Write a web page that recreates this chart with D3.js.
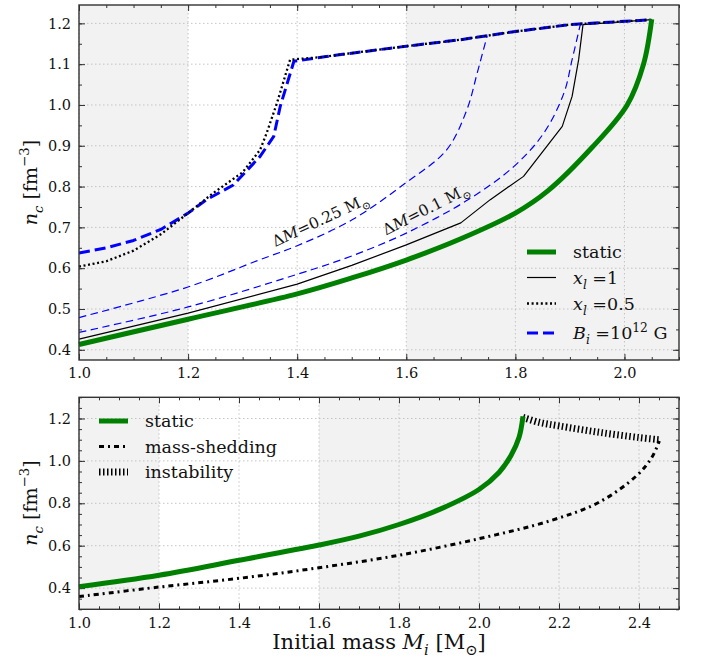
<!DOCTYPE html>
<html>
<head>
<meta charset="utf-8">
<script src="https://cdn.jsdelivr.net/npm/d3@7"></script>
<style>
  body { margin: 0; background: #fff; }
  #chart text { fill: #111; }
</style>
</head>
<body>
<svg id="chart" width="701" height="662"></svg>
<script>
// ---- data ----
// top panel
var staticTopM  = [1.0, 1.2, 1.4, 1.5, 1.6, 1.7, 1.8, 1.86, 1.94, 2.005, 2.035, 2.05];
var staticTopN  = [0.413, 0.475, 0.537, 0.576, 0.62, 0.672, 0.735, 0.79, 0.895, 1.0, 1.1, 1.21];
var xl1M        = [1.0, 1.2, 1.4, 1.5, 1.6, 1.7, 1.754, 1.815, 1.886, 1.904, 1.916, 1.924, 2.05];
var xl1N        = [0.426, 0.49, 0.561, 0.607, 0.657, 0.711, 0.768, 0.825, 0.9475, 1.021, 1.111, 1.197, 1.209];
var xl05M       = [1.0, 1.05, 1.1, 1.15, 1.2, 1.246, 1.3, 1.332, 1.344, 1.363, 1.387, 1.45, 1.5, 1.6, 1.7, 1.8, 1.9, 2.0, 2.05];
var xl05N       = [0.604, 0.617, 0.643, 0.683, 0.735, 0.784, 0.835, 0.89, 0.931, 1.005, 1.111, 1.118, 1.127, 1.144, 1.16, 1.18, 1.197, 1.205, 1.209];
var bFieldM     = [1.0, 1.05, 1.1, 1.15, 1.2, 1.234, 1.283, 1.332, 1.357, 1.369, 1.394, 1.45, 1.5, 1.6, 1.7, 1.8, 1.9, 2.0, 2.05];
var bFieldN     = [0.637, 0.65, 0.668, 0.695, 0.735, 0.768, 0.804, 0.874, 0.923, 0.997, 1.107, 1.118, 1.127, 1.144, 1.16, 1.18, 1.197, 1.205, 1.209];
var dm01M       = [1.0, 1.2, 1.4, 1.5, 1.6, 1.71, 1.797, 1.852, 1.889, 1.904, 1.919];
var dm01N       = [0.4425, 0.505, 0.585, 0.63, 0.686, 0.765, 0.849, 0.931, 1.029, 1.111, 1.197];
var dm025M      = [1.0, 1.2, 1.33, 1.4, 1.5, 1.6, 1.674, 1.711, 1.73, 1.748];
var dm025N      = [0.479, 0.554, 0.62, 0.655, 0.718, 0.81, 0.89, 0.988, 1.078, 1.168];

// bottom panel
var staticBotM  = [1.0, 1.2, 1.4, 1.6, 1.7, 1.8, 1.9, 2.0, 2.05, 2.08, 2.1, 2.11];
var staticBotN  = [0.407, 0.461, 0.531, 0.603, 0.645, 0.7, 0.77, 0.865, 0.945, 1.025, 1.11, 1.21];
var sheddingM   = [1.0, 1.2, 1.4, 1.6, 1.8, 2.0, 2.18, 2.3, 2.394, 2.432, 2.451];
var sheddingN   = [0.36, 0.405, 0.446, 0.496, 0.555, 0.633, 0.719, 0.805, 0.93, 1.016, 1.094];
var instabM     = [2.11, 2.15, 2.2, 2.3, 2.4, 2.45];
var instabN     = [1.205, 1.182, 1.165, 1.135, 1.11, 1.1];

// axes
var topXTicks = [1.0, 1.2, 1.4, 1.6, 1.8, 2.0];
var topYTicks = [0.4, 0.5, 0.6, 0.7, 0.8, 0.9, 1.0, 1.1, 1.2];
var botXTicks = [1.0, 1.2, 1.4, 1.6, 1.8, 2.0, 2.2, 2.4];
var botYTicks = [0.4, 0.6, 0.8, 1.0, 1.2];
var greyBands = [[1.0, 1.2], [1.6, 2.5]];

var SERIF = '"DejaVu Serif", "Liberation Serif", "Noto Serif", "Times New Roman", Georgia, serif';
var svg = d3.select('#chart').style('font-family', SERIF);

function zip(xs, ys) { return xs.map(function(x, i) { return [x, ys[i]]; }); }

function addRich(t, parts, size) {
  var shift = 0;
  t.style('font-family', SERIF);
  parts.forEach(function(p) {
    var target = p.sub ? size * 0.3 : (p.sup ? -size * 0.42 : 0);
    var ts = t.append('tspan').text(p.t)
      .attr('dy', target - shift)
      .style('font-size', ((p.sub || p.sup) ? size * 0.7 : size) + 'px');
    if (p.it) ts.style('font-style', 'italic');
    shift = target;
  });
}

function range(a, b, step) {
  var out = [];
  for (var v = a; v <= b + 1e-9; v += step) out.push(+v.toFixed(4));
  return out;
}

function panel(x, y, xt, yt) {
  var g = svg.append('g');
  var x0 = x.range()[0], x1 = x.range()[1], y0 = y.range()[1], y1 = y.range()[0];
  var dom = x.domain();

  g.selectAll('rect.band')
    .data(greyBands)
    .enter().append('rect')
      .attr('x', function(d) { return x(Math.max(d[0], dom[0])); })
      .attr('width', function(d) { return x(Math.min(d[1], dom[1])) - x(Math.max(d[0], dom[0])); })
      .attr('y', y0).attr('height', y1 - y0)
      .attr('fill', '#f2f2f2');

  // grid
  g.selectAll('line.gx').data(xt).enter().append('line')
    .attr('x1', x).attr('x2', x).attr('y1', y0).attr('y2', y1)
    .attr('stroke', '#b8b8b8').attr('stroke-width', 0.8).attr('stroke-dasharray', '1.5,2.5');
  g.selectAll('line.gy').data(yt).enter().append('line')
    .attr('y1', y).attr('y2', y).attr('x1', x0).attr('x2', x1)
    .attr('stroke', '#b8b8b8').attr('stroke-width', 0.8).attr('stroke-dasharray', '1.5,2.5');

  var xMinor = range(dom[0], dom[1], 0.05);
  var yd = y.domain();
  var yMinor = range(Math.ceil(yd[0] / 0.05) * 0.05, yd[1], 0.05);

  function axes(gen, scale, tx, ty, major, minor, labels) {
    var a = g.append('g').attr('transform', 'translate(' + tx + ',' + ty + ')');
    a.call(gen(scale).tickValues(minor).tickSize(-3).tickFormat(''));
    var b = g.append('g').attr('transform', 'translate(' + tx + ',' + ty + ')');
    b.call(gen(scale).tickValues(major).tickSize(-6).tickPadding(8)
      .tickFormat(labels ? d3.format('.1f') : ''));
    [a, b].forEach(function(s) {
      s.attr('font-family', null).style('font-family', SERIF);
      s.select('.domain').remove();
      s.selectAll('line').attr('stroke', '#333').attr('stroke-width', 1);
      s.selectAll('text').style('font-size', '14.5px').attr('fill', '#111');
    });
  }
  axes(d3.axisBottom, x, 0, y1, xt, xMinor, true);
  axes(d3.axisTop, x, 0, y0, xt, xMinor, false);
  axes(d3.axisLeft, y, x0, 0, yt, yMinor, true);
  axes(d3.axisRight, y, x1, 0, yt, yMinor, false);

  return g;
}

function frame(x, y) {
  svg.append('rect')
    .attr('x', x.range()[0]).attr('y', y.range()[1])
    .attr('width', x.range()[1] - x.range()[0]).attr('height', y.range()[0] - y.range()[1])
    .attr('fill', 'none').attr('stroke', '#333').attr('stroke-width', 1.4);
}

function curve(x, y, pts, st, smooth) {
  var line = d3.line().x(function(d) { return x(d[0]); }).y(function(d) { return y(d[1]); })
    .curve(smooth ? d3.curveCatmullRom.alpha(0.5) : d3.curveLinear);
  svg.append('path').datum(pts).attr('d', line)
    .attr('fill', 'none').attr('stroke', st.c).attr('stroke-width', st.w)
    .attr('stroke-dasharray', st.dash || null)
    .attr('stroke-linejoin', 'round');
}

function legendRow(x, y, st, parts) {
  svg.append('line').attr('x1', x).attr('x2', x + 29).attr('y1', y).attr('y2', y)
    .attr('stroke', st.c).attr('stroke-width', st.w).attr('stroke-dasharray', st.dash || null);
  var t = svg.append('text').attr('x', x + 46).attr('y', y + 6);
  addRich(t, parts, 17.5);
}

var sStatic = { c: '#008000', w: 5 };
var sXl1    = { c: '#000', w: 1.2 };
var sXl05   = { c: '#000', w: 2.3, dash: '2,2.6' };
var sBig    = { c: '#0000ff', w: 3, dash: '11,5' };
var sThin   = { c: '#0000ff', w: 1.2, dash: '7.5,4.5' };
var sShed   = { c: '#000', w: 3, dash: '5,4,2,4' };
var sInst   = { c: '#000', w: 7, dash: '1.5,2.5' };

// ---- top panel ----
var tx = d3.scaleLinear().domain([1.0, 2.1]).range([79, 679]);
var ty = d3.scaleLinear().domain([0.375, 1.245]).range([360, 5]);
panel(tx, ty, topXTicks, topYTicks);

curve(tx, ty, zip(dm025M, dm025N), sThin, true);
curve(tx, ty, zip(dm01M, dm01N), sThin, true);
curve(tx, ty, zip(xl1M, xl1N), sXl1, false);
curve(tx, ty, zip(bFieldM, bFieldN), sBig, false);
curve(tx, ty, zip(xl05M, xl05N), sXl05, false);
curve(tx, ty, zip(staticTopM, staticTopN), sStatic, true);

var a1 = svg.append('text').attr('transform', 'translate(' + tx(1.36) + ',' + ty(0.652) + ') rotate(-25)');
addRich(a1, [{ t: 'Δ' }, { t: 'M', it: true }, { t: '=0.25 M' }, { t: '⊙', sub: true }], 15.5);
var a2 = svg.append('text').attr('transform', 'translate(' + tx(1.563) + ',' + ty(0.68) + ') rotate(-27)');
addRich(a2, [{ t: 'Δ' }, { t: 'M', it: true }, { t: '=0.1 M' }, { t: '⊙', sub: true }], 15.5);

frame(tx, ty);

legendRow(527, 252, sStatic, [{ t: 'static' }]);
legendRow(527, 277.5, sXl1, [{ t: 'x', it: true }, { t: 'l', it: true, sub: true }, { t: ' =1' }]);
legendRow(527, 303.5, sXl05, [{ t: 'x', it: true }, { t: 'l', it: true, sub: true }, { t: ' =0.5' }]);
legendRow(527, 333, sBig, [{ t: 'B', it: true }, { t: 'i', it: true, sub: true }, { t: ' =10' }, { t: '12', sup: true }, { t: '  G' }]);

var yl1 = svg.append('text').attr('text-anchor', 'middle')
  .attr('transform', 'translate(37,182.5) rotate(-90)');
addRich(yl1, [{ t: 'n', it: true }, { t: 'c', it: true, sub: true }, { t: ' [fm' }, { t: '−3', sup: true }, { t: ']' }], 19);

// ---- bottom panel ----
var bx = d3.scaleLinear().domain([1.0, 2.5]).range([79, 679]);
var by = d3.scaleLinear().domain([0.3, 1.3]).range([609.3, 397.3]);
panel(bx, by, botXTicks, botYTicks);

curve(bx, by, zip(sheddingM, sheddingN), sShed, true);
curve(bx, by, zip(instabM, instabN), sInst, true);
curve(bx, by, zip(staticBotM, staticBotN), sStatic, true);
frame(bx, by);

legendRow(99, 421, sStatic, [{ t: 'static' }]);
legendRow(99, 446.5, sShed, [{ t: 'mass-shedding' }]);
legendRow(99, 472, sInst, [{ t: 'instability' }]);

var yl2 = svg.append('text').attr('text-anchor', 'middle')
  .attr('transform', 'translate(37,503) rotate(-90)');
addRich(yl2, [{ t: 'n', it: true }, { t: 'c', it: true, sub: true }, { t: ' [fm' }, { t: '−3', sup: true }, { t: ']' }], 19);

var xl = svg.append('text').attr('text-anchor', 'middle').attr('x', 379).attr('y', 649);
addRich(xl, [{ t: 'Initial mass ' }, { t: 'M', it: true }, { t: 'i', it: true, sub: true }, { t: ' [M' }, { t: '⊙', sub: true }, { t: ']' }], 21);
</script>
</body>
</html>
